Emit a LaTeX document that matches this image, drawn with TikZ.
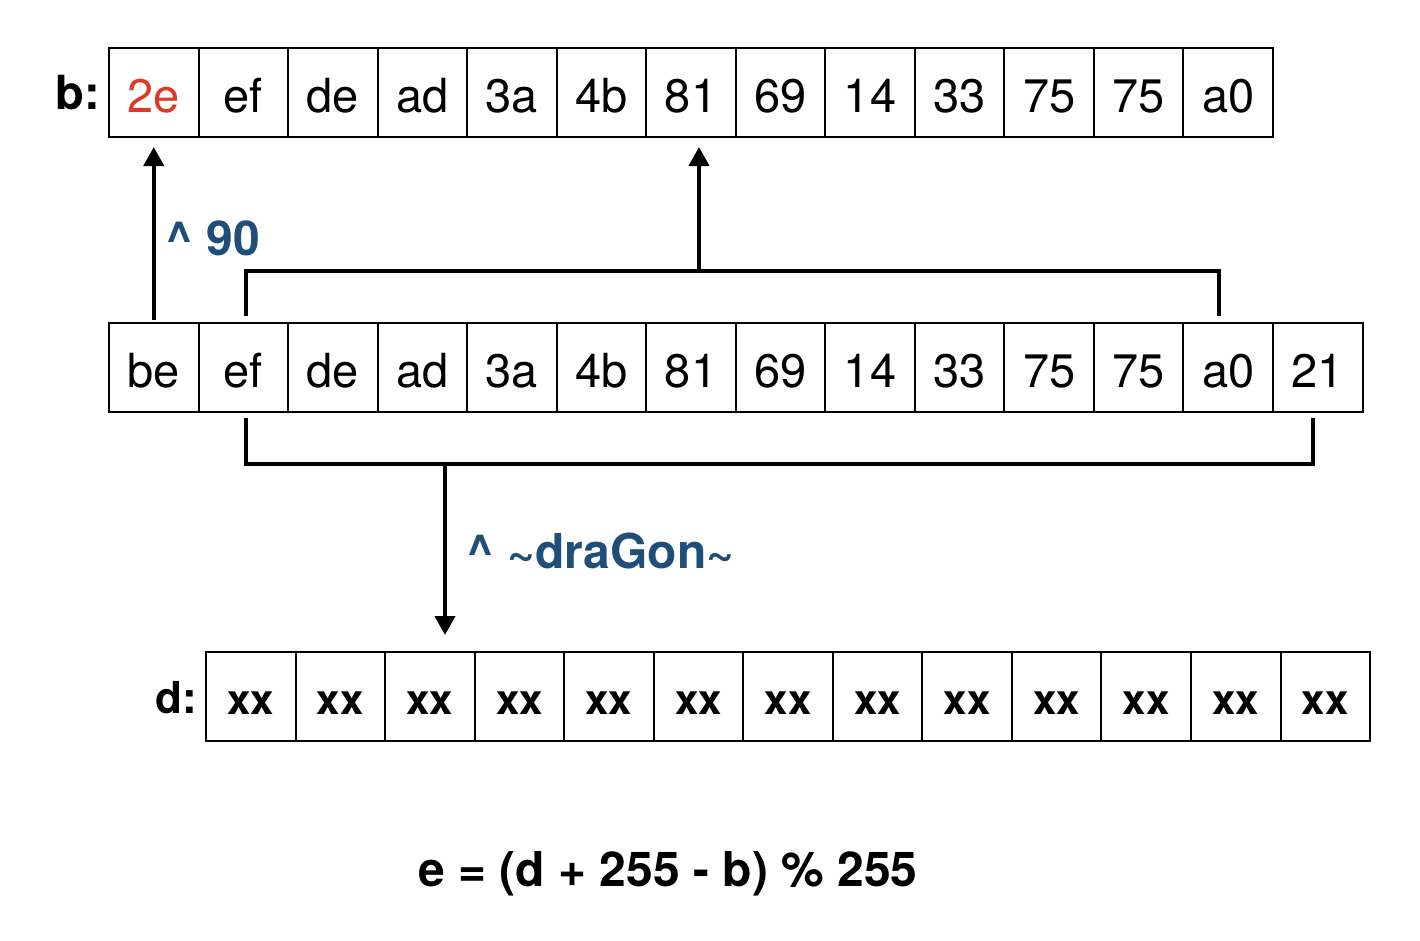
\documentclass[tikz,border=0pt]{standalone}
\usepackage{fontspec}
\setmainfont{TeX Gyre Heros}
\usepackage[dvipsnames]{xcolor}
\usetikzlibrary{arrows.meta}
\definecolor{xorblue}{RGB}{31,78,121}
\definecolor{firstred}{RGB}{222,56,38}

\begin{document}
\begin{tikzpicture}[x=1pt,y=-1pt,
  cell/.style={draw,line width=2pt,minimum width=89.54pt,minimum height=89pt,inner sep=0pt,outer sep=0pt,font=\fontsize{47}{56}\selectfont,text height=39pt,text depth=0pt},
  xcell/.style={cell,font=\fontsize{42}{50}\selectfont\bfseries,text height=35pt},
  wire/.style={line width=4pt},
  arrow/.style={wire,-{Triangle[width=20pt,length=19pt]}},
  rowname/.style={font=\fontsize{47}{56}\selectfont\bfseries,anchor=east,inner sep=0pt},
  oplabel/.style={font=\fontsize{48}{56}\selectfont\bfseries,text=xorblue,anchor=base west,inner sep=0pt}]
\useasboundingbox (0,0) rectangle (1420,940);

% b row
\node[cell,text=firstred] (b1) at (153.77,92.5) {2e};
\foreach \v [count=\i from 2] in {ef,de,ad,3a,4b,81,69,14,33,75,75,a0}
  \node[cell] (b\i) at ({153.77+(\i-1)*89.54},92.5) {\v};
\node[rowname] (bname) at ([xshift=-9pt]b1.west) {b:};

% middle row
\foreach \v [count=\i] in {be,ef,de,ad,3a,4b,81,69,14,33,75,75,a0,21}
  \node[cell] (m\i) at ({153.77+(\i-1)*89.54},367.5) {\v};

% d row
\foreach \i in {1,...,13}
  \node[xcell] (d\i) at ({250.77+(\i-1)*89.54},696.5) {xx};
\node[rowname,font=\fontsize{44}{52}\selectfont\bfseries] (dname) at ([xshift=-9pt,yshift=-1pt]d1.west) {d:};

% first byte
\draw[arrow,shorten <=3pt,shorten >=10pt] (m1.north) -- (b1.south);
\node[oplabel] (xor90) at (165,255) {\textasciicircum{} 90};

% upper bracket
\coordinate (upl) at ([xshift=3pt,yshift=7pt]m2.north);
\coordinate (upr) at ([xshift=-9pt,yshift=7pt]m13.north);
\draw[wire] (upl) -- ++(0,-45.5) -| (upr);
\coordinate (upmid) at (699,270.5);
\draw[arrow,shorten >=10pt] (upmid) -- (upmid |- b7.south);

% lower bracket
\coordinate (lol) at ([xshift=3pt,yshift=-6pt]m2.south);
\coordinate (lor) at ([xshift=-5pt,yshift=-6pt]m14.south);
\draw[wire] (lol) -- ++(0,46) -| (lor);
\coordinate (lomid) at (445,464);
\draw[arrow,shorten >=17pt] (lomid) -- (lomid |- d3.north);
\node[oplabel] (xorkey) at (466,568) {\textasciicircum{} \textasciitilde draGon\textasciitilde};

\node[font=\fontsize{48}{56}\selectfont\bfseries,anchor=base,inner sep=0pt] (formula) at (668,886) {e = (d + 255 - b) \% 255};
\end{tikzpicture}
\end{document}
